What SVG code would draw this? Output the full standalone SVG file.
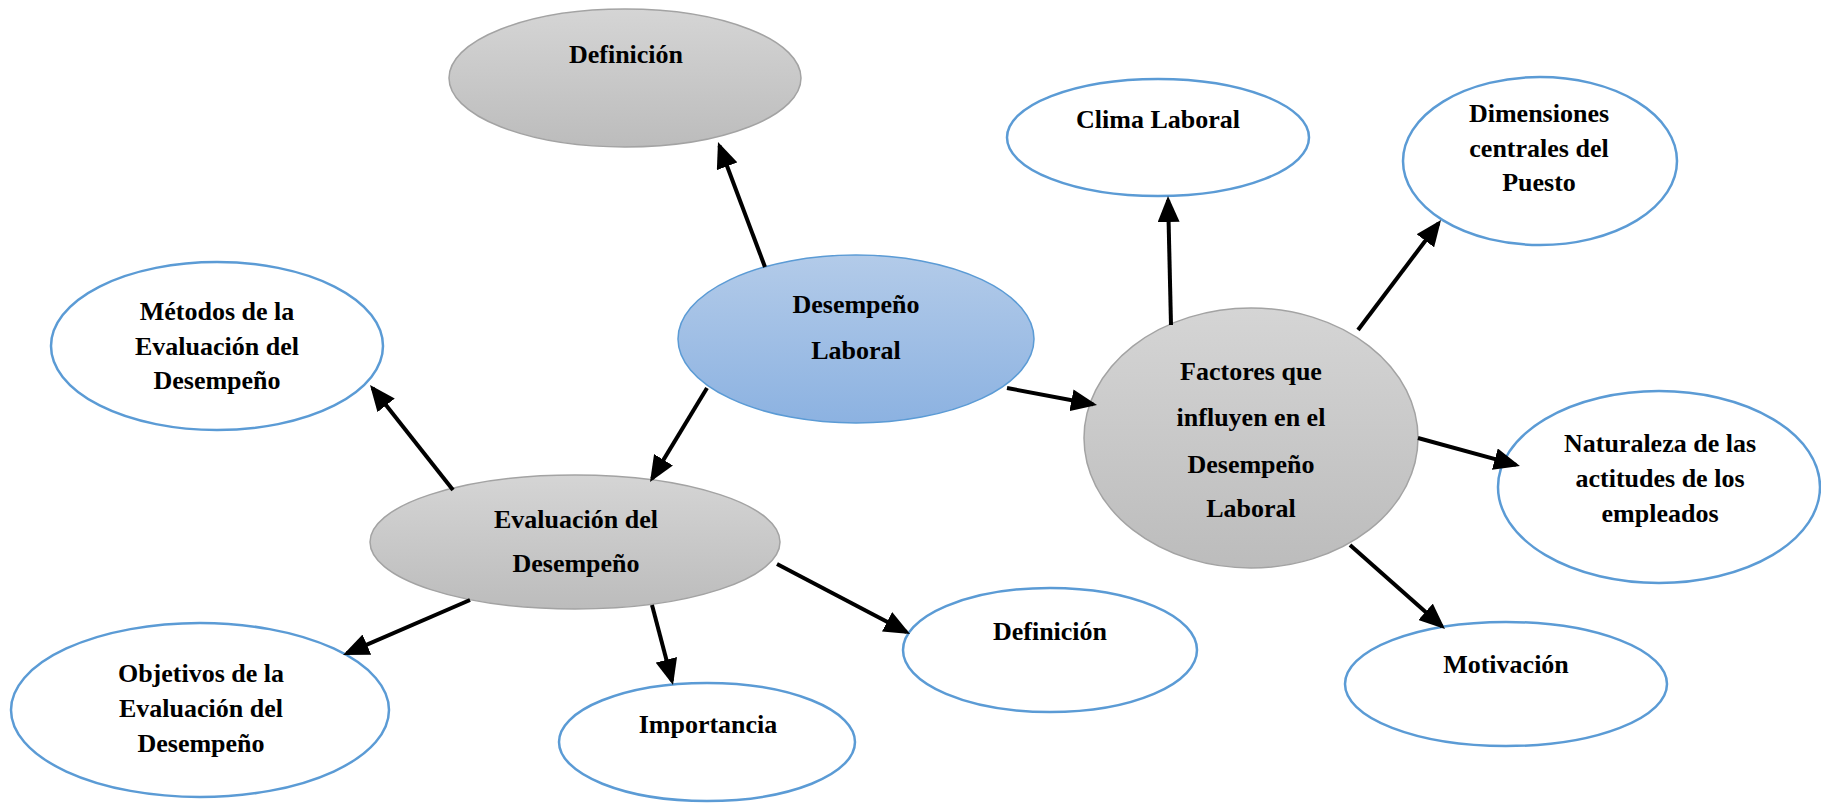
<svg xmlns="http://www.w3.org/2000/svg" width="1821" height="803" viewBox="0 0 1821 803">
<defs>
<linearGradient id="gGray" x1="0" y1="0" x2="0" y2="1">
<stop offset="0" stop-color="#d5d5d5"/>
<stop offset="1" stop-color="#bcbcbc"/>
</linearGradient>
<linearGradient id="gBlue" x1="0" y1="0" x2="0" y2="1">
<stop offset="0" stop-color="#b3cbe9"/>
<stop offset="1" stop-color="#8cb2e1"/>
</linearGradient>
<marker id="arr" markerUnits="userSpaceOnUse" markerWidth="26" markerHeight="22" refX="22" refY="11" orient="auto">
<path d="M0,0 L26,11 L0,22 z" fill="#000"/>
</marker>
<style>
.gray{fill:url(#gGray);stroke:#a3a3a3;stroke-width:1.5}
.blue{fill:url(#gBlue);stroke:#5b9bd5;stroke-width:1.5}
.white{fill:#fff;stroke:#5b9bd5;stroke-width:2.5}
text{font-family:"Liberation Serif","Times New Roman",serif;font-weight:bold;font-size:26px;fill:#000;text-anchor:middle}
.conn line{stroke:#000;stroke-width:4;marker-end:url(#arr)}
</style>
</defs>
<rect width="1821" height="803" fill="#fff"/>
<g id="n-definicion-top">
<ellipse class="gray" cx="625" cy="78" rx="176" ry="69"/>
<text x="626" y="63">Definición</text>
</g>
<g id="n-desempeno">
<ellipse class="blue" cx="856" cy="339" rx="178" ry="84"/>
<text x="856" y="313">Desempeño</text>
<text x="856" y="359">Laboral</text>
</g>
<g id="n-evaluacion">
<ellipse class="gray" cx="575" cy="542" rx="205" ry="67"/>
<text x="576" y="528">Evaluación del</text>
<text x="576" y="572">Desempeño</text>
</g>
<g id="n-factores">
<ellipse class="gray" cx="1251" cy="438" rx="167" ry="130"/>
<text x="1251" y="380">Factores que</text>
<text x="1251" y="426">influyen en el</text>
<text x="1251" y="473">Desempeño</text>
<text x="1251" y="517">Laboral</text>
</g>
<g id="n-metodos">
<ellipse class="white" cx="217" cy="346" rx="166" ry="84"/>
<text x="217" y="320">Métodos de la</text>
<text x="217" y="355">Evaluación del</text>
<text x="217" y="389">Desempeño</text>
</g>
<g id="n-objetivos">
<ellipse class="white" cx="200" cy="710" rx="189" ry="87"/>
<text x="201" y="682">Objetivos de la</text>
<text x="201" y="717">Evaluación del</text>
<text x="201" y="752">Desempeño</text>
</g>
<g id="n-importancia">
<ellipse class="white" cx="707" cy="742" rx="148" ry="59"/>
<text x="708" y="733">Importancia</text>
</g>
<g id="n-definicion-bottom">
<ellipse class="white" cx="1050" cy="650" rx="147" ry="62"/>
<text x="1050" y="640">Definición</text>
</g>
<g id="n-clima">
<ellipse class="white" cx="1158" cy="137.5" rx="151" ry="58.5"/>
<text x="1158" y="128">Clima Laboral</text>
</g>
<g id="n-dimensiones">
<ellipse class="white" cx="1540" cy="161" rx="137" ry="84"/>
<text x="1539" y="122">Dimensiones</text>
<text x="1539" y="157">centrales del</text>
<text x="1539" y="191">Puesto</text>
</g>
<g id="n-naturaleza">
<ellipse class="white" cx="1659" cy="487" rx="161" ry="96"/>
<text x="1660" y="452">Naturaleza de las</text>
<text x="1660" y="487">actitudes de los</text>
<text x="1660" y="522">empleados</text>
</g>
<g id="n-motivacion">
<ellipse class="white" cx="1506" cy="684" rx="161" ry="62"/>
<text x="1506" y="673">Motivación</text>
</g>
<g id="connectors" class="conn">
<line x1="765" y1="267" x2="719.4" y2="145.7"/>
<line x1="707" y1="388" x2="652.1" y2="478.6"/>
<line x1="1007" y1="388" x2="1093.1" y2="404.3"/>
<line x1="453" y1="490" x2="372.5" y2="388.1"/>
<line x1="470" y1="600" x2="346.7" y2="653.4"/>
<line x1="652" y1="605" x2="672" y2="681.1"/>
<line x1="777" y1="564" x2="906.5" y2="632.1"/>
<line x1="1171" y1="325" x2="1168.1" y2="200"/>
<line x1="1358" y1="330" x2="1438.6" y2="223.2"/>
<line x1="1418" y1="438" x2="1516.1" y2="464.9"/>
<line x1="1350" y1="545" x2="1442" y2="626.4"/>
</g>
</svg>
